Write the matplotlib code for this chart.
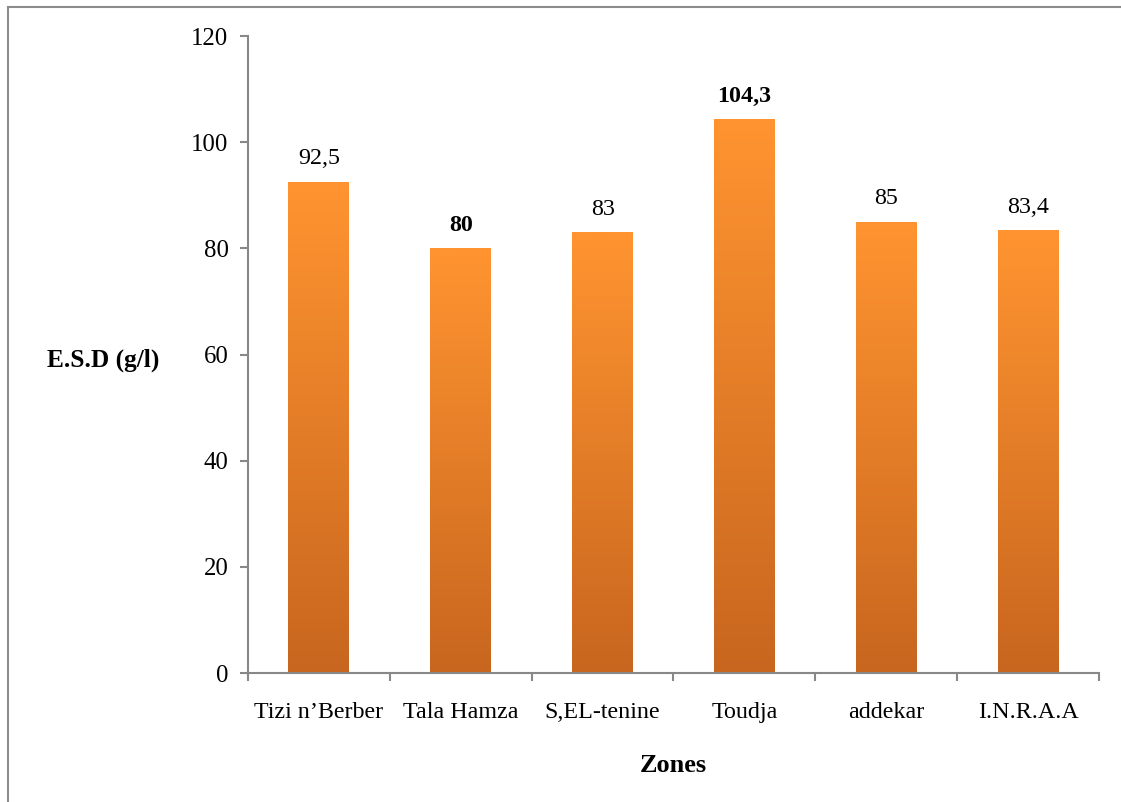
import numpy as np
import matplotlib
matplotlib.use('Agg')
import matplotlib.pyplot as plt
from matplotlib.colors import LinearSegmentedColormap
from matplotlib.patches import Rectangle

zones = ['Tizi n\u2019Berber', 'Tala Hamza', 'S,EL-tenine', 'Toudja', 'addekar', 'I.N.R.A.A']
esd = [92.5, 80, 83, 104.3, 85, 83.4]
value_labels = ['92,5', '80', '83', '104,3', '85', '83,4']
bold_labels = [False, True, False, True, False, False]
yticks = [0, 20, 40, 60, 80, 100, 120]


def main():
    plt.rcParams['font.family'] = ['Liberation Serif', 'DejaVu Serif']

    fig = plt.figure(figsize=(11.21, 8.02), dpi=100)
    ax = fig.add_axes([0.2212, 0.1608, 0.7592, 0.7943])

    x = np.arange(len(zones))
    bars = ax.bar(x, esd, width=0.43, color='none', edgecolor='none')

    # vertical orange gradient inside each bar
    cmap = LinearSegmentedColormap.from_list('orange', ['#c8661f', '#ff9430'])
    grad = np.linspace(0, 1, 256).reshape(-1, 1)
    for b in bars:
        x0, w, h = b.get_x(), b.get_width(), b.get_height()
        im = ax.imshow(grad, cmap=cmap, origin='lower', aspect='auto',
                       extent=[x0, x0 + w, 0, h], zorder=2)
        im.set_clip_path(b)

    for xi, v, lab, bold in zip(x, esd, value_labels, bold_labels):
        ax.text(xi, v + 3.3, lab, ha='center', va='baseline', fontsize=17.3,
                fontweight='bold' if bold else 'normal')

    ax.set_xlim(-0.5, len(zones) - 0.5)
    ax.set_ylim(0, 120)
    ax.set_yticks(yticks)
    ax.set_xticks(x)
    ax.set_xticklabels(zones, fontsize=17.3)
    ax.set_xticks(np.arange(len(zones) + 1) - 0.5, minor=True)
    ax.tick_params(axis='y', labelsize=17.8, length=6, width=1.5, color='#888888', pad=8)
    ax.tick_params(axis='x', which='major', length=0, pad=21)
    ax.tick_params(axis='x', which='minor', length=6, width=1.5, color='#888888')

    for s in ['top', 'right']:
        ax.spines[s].set_visible(False)
    for s in ['left', 'bottom']:
        ax.spines[s].set_color('#888888')
        ax.spines[s].set_linewidth(1.5)

    ax.set_xlabel('Zones', fontsize=19, fontweight='bold', labelpad=22)
    fig.text(0.0923, 0.551, 'E.S.D (g/l)', fontsize=18.3, fontweight='bold',
             ha='center', va='center')

    # frame around the chart area
    fig.patches.append(Rectangle((0.0067, -0.1), 1.2, 1.0908, transform=fig.transFigure,
                                 fill=False, edgecolor='#8c8c8c', linewidth=1.5))

    fig.savefig('out.png', dpi=100)


if __name__ == "__main__":
    main()
